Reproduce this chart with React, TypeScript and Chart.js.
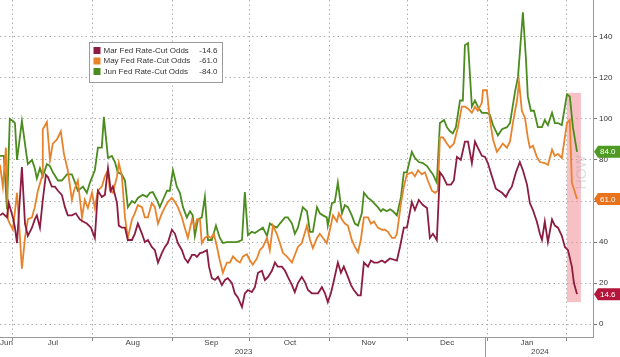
import React, { useEffect, useRef } from "react";
import { Chart, registerables } from "chart.js";

Chart.register(...registerables);

// ---- data (x = days since 2023-07-01) ----
const seriesNames = ["Mar Fed Rate-Cut Odds", "May Fed Rate-Cut Odds", "Jun Fed Rate-Cut Odds"];
const lineColors = ["#8c1c40", "#e8832b", "#4c8c1f"];
const boxColors = ["#b3163a", "#e8731c", "#4f9a22"];

const marDays = [-5.0, -3.9, -2.3, -1.6, 0, 0.8, 1.6, 3.5, 4.7, 5.8, 7.4, 8.5, 9.3, 10.5, 11.6, 12.8, 13.6, 15.1, 16.3, 17.5, 19.0, 20.2, 21.3, 22.9, 24.4, 26.0, 27.2, 28.7, 30.3, 31.8, 33.0, 34.5, 35.7, 36.9, 38.0, 38.8, 40.4, 41.1, 42.3, 43.5, 44.6, 46.2, 47.3, 48.5, 50.1, 51.2, 52.4, 53.9, 55.1, 56.3, 57.8, 59.0, 60.1, 61.7, 62.9, 64.0, 65.6, 66.7, 67.9, 69.5, 70.6, 71.4, 72.6, 73.7, 75.3, 76.1, 77.2, 78.4, 79.6, 81.1, 82.3, 83.4, 85.0, 86.1, 87.3, 88.9, 90.0, 91.2, 92.7, 93.9, 95.1, 96.6, 97.8, 99.0, 100.5, 101.7, 102.8, 104.4, 105.6, 106.7, 108.3, 109.4, 110.6, 112.1, 113.3, 114.5, 116.0, 117.2, 118.4, 119.9, 121.1, 122.2, 123.4, 124.6, 126.1, 127.3, 128.4, 130.0, 131.2, 132.3, 133.9, 135.0, 136.2, 137.8, 138.9, 140.1, 141.6, 143.2, 144.4, 146.3, 149.0, 150.2, 151.7, 152.9, 154.8, 156.0, 157.5, 159.1, 160.7, 161.8, 163.0, 164.5, 165.7, 166.9, 168.4, 170.0, 171.1, 172.3, 173.8, 175.4, 176.6, 178.1, 179.3, 180.4, 182.0, 183.2, 184.3, 185.9, 187.4, 188.6, 189.8, 191.3, 192.5, 193.6, 195.2, 196.7, 197.9, 199.5, 200.6, 201.8, 203.3, 204.5, 205.3, 206.4, 207.6, 209.2, 210.3, 211.5, 213.0, 214.2, 215.4, 216.9, 217.7, 218.9];
const marOdds = [53, 54, 52, 59, 52, 47, 39.5, 76.6, 49, 43, 47, 51, 53, 47, 60.5, 72.7, 71.7, 67, 67, 65, 63, 57, 53, 53, 54, 51, 50, 49, 47, 42, 65, 62, 63, 76, 65, 67, 59, 48, 47, 47, 41, 41, 44, 49, 44, 40, 41, 37.6, 36, 30, 34.6, 37.6, 39.5, 46, 44, 39.5, 36, 32, 30, 33.7, 33.7, 32.7, 34.6, 35, 36, 28, 22.4, 21.5, 23, 19, 21.5, 22.4, 20, 15, 13, 8.3, 15, 16.6, 15.6, 18, 25, 26, 21.5, 23, 26, 30, 28, 28, 26, 23, 19, 15.6, 20, 23, 20.5, 16.6, 15, 15, 15, 18, 15, 10.7, 15, 21.5, 30, 25, 28, 23, 19, 16.6, 14, 14, 30, 28, 31, 30, 30, 31, 30, 32, 31, 37.6, 47, 47, 59.5, 55.6, 60.5, 58, 56.6, 42, 44, 41, 74, 72, 68, 68, 70, 81.5, 80, 89, 89, 78.5, 89, 86, 82, 81.5, 78.5, 72, 66, 65, 64, 62, 65, 67, 74, 79, 75, 68, 59, 55.6, 50, 44, 41, 50, 40, 51, 48, 47, 43, 37.6, 36, 28, 20, 14.6];

const mayDays = [-5.0, -3.9, -2.7, -1.9, -1.2, 0, 1.6, 2.3, 3.5, 4.7, 5.8, 7.4, 8.5, 9.7, 11.3, 11.6, 13.2, 14.4, 15.5, 17.1, 18.6, 19.8, 21.3, 22.9, 23.7, 25.2, 26.8, 27.9, 29.1, 30.7, 31.8, 33.0, 34.5, 35.7, 36.9, 37.6, 38.8, 40.4, 41.1, 42.3, 43.5, 44.6, 46.2, 47.3, 48.5, 50.1, 51.2, 52.4, 53.9, 55.1, 56.3, 57.8, 59.0, 60.1, 61.7, 62.9, 64.0, 65.6, 66.7, 67.9, 69.5, 70.6, 71.4, 72.6, 73.3, 74.5, 75.7, 76.8, 78.0, 79.2, 80.3, 81.5, 83.0, 84.2, 85.4, 86.9, 88.1, 89.3, 90.8, 92.0, 93.1, 94.7, 95.8, 97.0, 98.6, 99.7, 100.9, 102.4, 103.6, 104.8, 106.3, 108.3, 109.4, 110.6, 112.1, 114.1, 115.3, 116.4, 118.0, 119.1, 120.3, 121.8, 123.0, 124.2, 125.7, 126.5, 127.7, 128.8, 130.0, 131.5, 132.7, 133.9, 135.0, 136.2, 137.8, 138.9, 140.1, 141.6, 143.2, 144.4, 145.5, 147.1, 148.2, 149.0, 150.6, 151.7, 152.9, 154.8, 156.0, 157.2, 158.7, 159.9, 161.0, 162.6, 163.8, 164.9, 165.7, 166.9, 168.4, 169.6, 171.1, 172.7, 174.2, 175.4, 176.6, 178.1, 179.3, 180.4, 182.0, 182.4, 183.9, 185.1, 186.3, 187.8, 189.0, 190.1, 191.7, 192.9, 194.0, 195.6, 196.4, 197.5, 198.7, 199.8, 200.6, 201.8, 203.3, 204.5, 206.4, 207.6, 209.2, 210.3, 211.5, 213.0, 215.0, 216.1, 216.9, 218.9];
const mayOdds = [77.6, 67, 86, 51, 49, 46, 64, 51, 27, 42, 51, 52, 57, 65, 72, 95, 98.5, 80, 88, 90, 94, 83, 75, 60.5, 65, 70, 52, 60.5, 56.6, 64, 56.6, 65, 67, 72, 75, 65, 64, 72, 78.5, 72, 52, 42, 51, 54, 58, 57, 52, 52, 59, 57, 49, 54, 57, 59.5, 61.5, 59.5, 57, 52, 47, 42, 51, 47, 51, 51, 39.5, 42, 43, 42, 44, 37.6, 31, 25, 30, 30, 33, 31, 30, 33, 34, 31, 29, 32, 36, 37.6, 42, 36, 48, 44, 39.5, 34.6, 33, 30, 33.7, 37.6, 39.5, 48, 41, 37, 42, 44, 42, 39.5, 46, 53, 50, 54, 51, 49, 48, 41, 37.6, 35, 41, 52, 52, 49, 50, 47, 46, 46, 45, 42, 42, 44, 59, 67, 73, 74, 72, 75, 73, 74, 70, 65, 64, 65, 91, 91, 88, 86, 88, 96, 106, 106, 105, 103, 106, 104, 108, 114, 114, 99.5, 90, 84, 86, 88, 86, 89, 98, 109, 118, 104, 100.5, 91, 86, 87, 81.5, 79, 78.5, 77.6, 85, 82, 83, 81, 98, 99.5, 69, 61];

const junDays = [-5.0, -3.5, -2.3, -1.2, 0, 0.8, 1.6, 3.5, 5.0, 5.8, 7.4, 8.5, 9.3, 10.5, 11.6, 13.2, 14.4, 15.5, 17.5, 19.0, 21.0, 22.9, 24.1, 25.2, 27.2, 28.7, 29.9, 31.8, 33.0, 34.5, 35.3, 36.9, 38.4, 39.6, 40.7, 42.3, 43.5, 44.6, 46.2, 47.3, 48.5, 50.4, 52.0, 53.2, 54.3, 55.9, 57.0, 58.2, 59.8, 60.9, 62.1, 63.6, 64.8, 66.0, 67.5, 68.7, 69.8, 70.6, 71.8, 73.3, 74.5, 75.7, 77.2, 78.8, 80.3, 81.5, 83.0, 85.0, 86.9, 88.9, 90.0, 91.2, 92.7, 93.9, 95.8, 97.0, 98.6, 99.7, 100.9, 102.4, 103.6, 105.6, 106.7, 108.3, 109.4, 110.6, 112.5, 114.1, 115.3, 116.4, 118.0, 119.1, 120.3, 121.8, 122.2, 123.8, 124.9, 126.1, 127.7, 128.8, 130.0, 131.5, 132.7, 133.9, 135.4, 136.2, 137.8, 138.9, 140.1, 141.6, 142.8, 143.6, 145.1, 146.3, 147.5, 149.0, 150.6, 151.7, 152.9, 154.8, 156.0, 157.5, 159.1, 160.7, 161.8, 163.0, 164.5, 165.7, 167.3, 168.4, 169.6, 170.7, 171.9, 173.5, 174.6, 175.4, 176.6, 178.1, 179.3, 180.4, 182.0, 183.9, 185.1, 186.3, 188.2, 189.8, 191.7, 192.9, 194.8, 196.0, 197.9, 199.1, 199.8, 201.0, 202.2, 203.7, 205.3, 206.4, 207.6, 209.2, 210.3, 211.5, 213.0, 215.0, 216.1, 217.3, 218.9];
const junOdds = [82, 82, 56, 100, 99, 98, 80, 99, 85, 78, 80, 76, 71, 76, 72, 78, 77, 74, 70, 70, 73, 73, 69, 65, 67, 64, 69, 75, 86, 86, 101, 81, 82, 79, 74, 73, 70, 57, 60, 59, 61.5, 63, 62, 64, 64.4, 60.5, 57, 60.5, 65, 65, 75, 67, 64, 57, 52, 55, 53, 43, 51, 52, 62, 41, 41, 48, 42, 39.5, 40, 40, 40, 41, 64.4, 43.4, 45, 44.4, 46, 47, 43, 49, 48, 47, 49, 52, 52, 49, 44, 47, 57, 55, 45, 45, 57, 54, 53, 52, 48, 59, 59.5, 69, 54, 58, 57, 53, 49, 48, 54, 64, 61.5, 60.5, 59, 57, 55, 56, 55, 56, 55, 53, 62, 74, 74, 84, 81, 79, 78.5, 77, 75, 73, 69, 98, 99.5, 96, 94, 93, 96, 109, 109, 136, 137, 106, 109, 106, 103, 103, 102, 97, 92, 95, 96, 98, 113, 120.5, 152, 129, 111, 104, 104, 96, 96, 99.5, 97, 103, 98, 98, 97, 112, 111, 96, 84];

const monthGridDays = [0, 31, 62, 92, 123, 153, 184, 215];
const monthLabels = ["Jun", "Jul", "Aug", "Sep", "Oct", "Nov", "Dec", "Jan"];
const monthLabelDays = [-2.5, 15.5, 46.5, 77, 107.5, 138, 168.5, 199.5];
const yearLabels = ["2023", "2024"];
const yearLabelDays = [89.5, 204.5];
const yearBreakDay = 183;
const yTickValues = [0, 20, 40, 60, 80, 100, 120, 140];
const shadeDays = [215, 220.4];
const shadeValues = [10.7, 112.7];
const X_MIN = -5;
const X_MAX = 225.1;
const Y_MIN = -6.3;
const Y_MAX = 158;

const FONT = "'Liberation Sans', Arial, sans-serif";

const allDays = [marDays, mayDays, junDays];
const allOdds = [marOdds, mayOdds, junOdds];

const overlayPlugin = {
  id: "overlay",
  beforeDatasetsDraw(chart: any) {
    const { ctx, chartArea, scales } = chart;
    const xs = scales.x;
    const ys = scales.y;
    ctx.save();
    // shaded recent window
    const x1 = xs.getPixelForValue(shadeDays[0]);
    const x2 = xs.getPixelForValue(shadeDays[1]);
    const yTop = ys.getPixelForValue(shadeValues[1]);
    const yBot = ys.getPixelForValue(shadeValues[0]);
    ctx.fillStyle = "rgba(240, 140, 150, 0.55)";
    ctx.fillRect(x1, yTop, x2 - x1, yBot - yTop);
    // faint rotated text near the axis
    ctx.translate(chartArea.right - 11, ys.getPixelForValue(74));
    ctx.rotate(-Math.PI / 2);
    ctx.fillStyle = "rgba(160,160,160,0.35)";
    ctx.font = `14px ${FONT}`;
    ctx.textAlign = "center";
    ctx.textBaseline = "middle";
    ctx.fillText("HOW", 0, 0);
    ctx.restore();
  },
  afterDraw(chart: any) {
    const { ctx, chartArea, scales, width, height } = chart;
    const xs = scales.x;
    const ys = scales.y;
    ctx.save();
    // month & year labels
    ctx.fillStyle = "#444";
    ctx.font = `8px ${FONT}`;
    ctx.textAlign = "center";
    ctx.textBaseline = "middle";
    monthLabels.forEach((m, i) => {
      ctx.fillText(m, xs.getPixelForValue(monthLabelDays[i]), chartArea.bottom + 6);
    });
    yearLabels.forEach((y, i) => {
      ctx.fillText(y, xs.getPixelForValue(yearLabelDays[i]), chartArea.bottom + 15);
    });
    const xb = Math.round(xs.getPixelForValue(yearBreakDay)) + 0.5;
    ctx.strokeStyle = "#999";
    ctx.lineWidth = 1;
    ctx.beginPath();
    ctx.moveTo(xb, chartArea.bottom);
    ctx.lineTo(xb, height);
    ctx.stroke();

    // end-value tags on the right axis
    ctx.font = `8px ${FONT}`;
    ctx.textAlign = "left";
    allOdds.forEach((vals, i) => {
      const v = vals[vals.length - 1];
      const y = ys.getPixelForValue(v);
      const left = chartArea.right + 1;
      ctx.fillStyle = boxColors[i];
      ctx.beginPath();
      ctx.moveTo(left, y);
      ctx.lineTo(left + 4, y - 6);
      ctx.lineTo(width, y - 6);
      ctx.lineTo(width, y + 6);
      ctx.lineTo(left + 4, y + 6);
      ctx.closePath();
      ctx.fill();
      ctx.fillStyle = "#fff";
      ctx.fillText(v.toFixed(1), left + 6, y + 0.5);
    });

    // legend
    const lx = 89.5, ly = 42.5, lw = 133, lh = 40;
    ctx.fillStyle = "#fff";
    ctx.fillRect(lx, ly, lw, lh);
    ctx.strokeStyle = "#9a9a9a";
    ctx.lineWidth = 1;
    ctx.strokeRect(lx, ly, lw, lh);
    ctx.font = `8px ${FONT}`;
    ctx.textBaseline = "middle";
    seriesNames.forEach((name, i) => {
      const ry = ly + 8 + i * 10.5;
      ctx.fillStyle = lineColors[i];
      ctx.fillRect(lx + 4, ry - 3.5, 7, 7);
      ctx.fillStyle = "#333";
      ctx.textAlign = "left";
      ctx.fillText(name, lx + 14, ry);
      ctx.textAlign = "right";
      const vals = allOdds[i];
      ctx.fillText("-" + vals[vals.length - 1].toFixed(1), lx + lw - 5, ry);
    });
    ctx.restore();
  },
};

export default function App() {
  const canvasRef = useRef<HTMLCanvasElement | null>(null);

  useEffect(() => {
    document.body.style.margin = "0";
    const canvas = canvasRef.current;
    if (!canvas) return;
    const chart = new Chart(canvas, {
      type: "line",
      data: {
        datasets: seriesNames.map((name, i) => ({
          label: name,
          data: allDays[i].map((d, j) => ({ x: d, y: allOdds[i][j] })),
          borderColor: lineColors[i],
          backgroundColor: lineColors[i],
          borderWidth: 1.8,
          pointRadius: 0,
          tension: 0,
          fill: false,
        })),
      },
      options: {
        responsive: false,
        animation: false,
        layout: { padding: 0 },
        plugins: { legend: { display: false }, tooltip: { enabled: false } },
        scales: {
          x: {
            type: "linear",
            position: "bottom",
            min: X_MIN,
            max: X_MAX,
            afterBuildTicks: (s: any) => {
              s.ticks = monthGridDays.map((v) => ({ value: v }));
            },
            ticks: { display: false },
            grid: { color: "#b0b0b0", lineWidth: 1, tickLength: 4, tickColor: "#888", tickBorderDash: [] },
            border: { display: true, color: "#9a9a9a", width: 1, dash: [1.5, 3] },
            afterFit: (s: any) => {
              s.height = 20;
              s.paddingLeft = 0;
              s.paddingRight = 0;
            },
          },
          y: {
            type: "linear",
            position: "right",
            min: Y_MIN,
            max: Y_MAX,
            afterBuildTicks: (s: any) => {
              s.ticks = yTickValues.map((v) => ({ value: v }));
            },
            ticks: { color: "#333", font: { family: FONT, size: 8 }, padding: 2 },
            grid: { color: "#b0b0b0", lineWidth: 1, tickLength: 4, tickColor: "#777", tickBorderDash: [] },
            border: { display: true, color: "#9a9a9a", width: 1, dash: [1.5, 3] },
            afterFit: (s: any) => {
              s.width = 27;
              s.paddingTop = 0;
              s.paddingBottom = 0;
            },
          },
        },
      },
      plugins: [overlayPlugin],
    } as any);
    return () => chart.destroy();
  }, []);

  return (
    <div style={{ width: 620, height: 357, background: "#fff" }}>
      <canvas ref={canvasRef} width={620} height={357} style={{ display: "block" }} />
    </div>
  );
}
